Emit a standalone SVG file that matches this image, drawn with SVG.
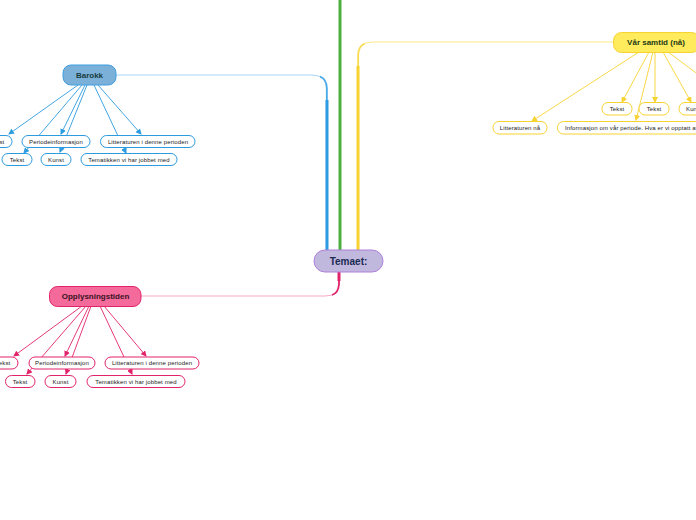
<svg xmlns="http://www.w3.org/2000/svg" width="696" height="520" viewBox="0 0 696 520">
<defs>
<marker id="mb" markerWidth="6" markerHeight="6" refX="5" refY="3" orient="auto" markerUnits="userSpaceOnUse"><path d="M0,0 L6,3 L0,6 Z" fill="#2d9be0"/></marker>
<marker id="mp" markerWidth="6" markerHeight="6" refX="5" refY="3" orient="auto" markerUnits="userSpaceOnUse"><path d="M0,0 L6,3 L0,6 Z" fill="#e2236a"/></marker>
<marker id="my" markerWidth="6" markerHeight="6" refX="5" refY="3" orient="auto" markerUnits="userSpaceOnUse"><path d="M0,0 L6,3 L0,6 Z" fill="#f7d332"/></marker>
</defs>
<style>
text{font-family:"Liberation Sans",Arial,sans-serif;text-anchor:middle;dominant-baseline:central}
.c{font-size:6px;fill:#222;letter-spacing:0.12px}
.b{fill:#fff;stroke:#2d9be0;stroke-width:1}
.p{fill:#fff;stroke:#e2236a;stroke-width:1}
.y{fill:#fff;stroke:#f7d332;stroke-width:1}
.ab{stroke:#2d9be0;stroke-width:0.9;fill:none;marker-end:url(#mb)}
.ap{stroke:#e2236a;stroke-width:0.9;fill:none;marker-end:url(#mp)}
.ay{stroke:#f7d332;stroke-width:0.9;fill:none;marker-end:url(#my)}
.m{font-weight:bold;font-size:8px}
</style>
<rect width="696" height="520" fill="#fff"/>
<g id="connectors">
<path d="M116,75 H312 Q327,75 327,90 V250" stroke="#a6d4f5" stroke-width="1" fill="none"/>
<path d="M320,76.5 Q326.5,79 326.8,88 V250" stroke="#4aaae8" stroke-width="1.8" fill="none"/>
<path d="M327,100 V250" stroke="#2d9be0" stroke-width="3" fill="none"/>
<path d="M340,0 V250" stroke="#4caf3c" stroke-width="3" fill="none"/>
<path d="M613,42 H372 Q358,42 358,56 V250" stroke="#fbe88a" stroke-width="1" fill="none"/>
<path d="M365,43.5 Q358.3,46 358.2,55 V250" stroke="#f9dc55" stroke-width="1.8" fill="none"/>
<path d="M358,66 V250" stroke="#f7d332" stroke-width="3" fill="none"/>
<path d="M339,272 V284 Q339,296 325,296 H141" stroke="#f5a9c4" stroke-width="1" fill="none"/>
<path d="M339,272 V284 Q338.5,293 332,295" stroke="#e2236a" stroke-width="1.8" fill="none"/>
<path d="M339,272 V281" stroke="#e2236a" stroke-width="3" fill="none"/>
<line class="ab" x1="78" y1="85" x2="9" y2="134"/>
<line class="ab" x1="82" y1="85" x2="24" y2="153"/>
<line class="ab" x1="85" y1="85" x2="61" y2="134"/>
<line class="ab" x1="87" y1="85" x2="60" y2="152"/>
<line class="ab" x1="94" y1="85" x2="126" y2="153"/>
<line class="ab" x1="98" y1="85" x2="141" y2="134"/>
<line class="ap" x1="82" y1="306" x2="14" y2="356"/>
<line class="ap" x1="86" y1="306" x2="27" y2="374"/>
<line class="ap" x1="89" y1="306" x2="65" y2="356"/>
<line class="ap" x1="91" y1="306" x2="66" y2="374"/>
<line class="ap" x1="100" y1="306" x2="132" y2="374"/>
<line class="ap" x1="104" y1="306" x2="146" y2="356"/>
<line class="ay" x1="639" y1="52" x2="532" y2="121"/>
<line class="ay" x1="649" y1="52" x2="622" y2="102"/>
<line class="ay" x1="653" y1="52" x2="636" y2="120"/>
<line class="ay" x1="655" y1="52" x2="655" y2="102"/>
<line class="ay" x1="663" y1="52" x2="691" y2="102"/>
<line class="ay" x1="668" y1="52" x2="730" y2="98"/>
</g>
<g id="temaet">
<rect x="314" y="250" width="69" height="22" rx="11" fill="#c1b8de" stroke="#b07fdc" stroke-width="1"/>
<text x="348.5" y="261.5" font-size="10" font-weight="bold" fill="#1a2a50">Temaet:</text>
</g>
<g id="barokk">
<rect x="63" y="65" width="53" height="20" rx="8" fill="#7bb0d8" stroke="#3f9ee0" stroke-width="1"/>
<text class="m" x="89.5" y="75.5" fill="#183c40">Barokk</text>
</g>
<g id="b-tekst1"><rect class="b" x="-18" y="135.5" width="30" height="12" rx="6"/><text class="c" x="-3" y="141.5">Tekst</text></g>
<g id="b-periode"><rect class="b" x="22" y="135.5" width="68" height="12" rx="6"/><text class="c" x="56" y="141.5">Periodeinformasjon</text></g>
<g id="b-litt"><rect class="b" x="100.5" y="135.5" width="94.5" height="12" rx="6"/><text class="c" x="148" y="141.5">Litteraturen i denne perioden</text></g>
<g id="b-tekst2"><rect class="b" x="2" y="153.5" width="30" height="12" rx="6"/><text class="c" x="17" y="159.5">Tekst</text></g>
<g id="b-kunst"><rect class="b" x="41" y="153.5" width="30" height="12" rx="6"/><text class="c" x="56" y="159.5">Kunst</text></g>
<g id="b-tema"><rect class="b" x="81" y="153.5" width="96" height="12" rx="6"/><text class="c" x="129" y="159.5">Tematikken vi har jobbet med</text></g>
<g id="opplysning">
<rect x="49.5" y="286.5" width="91.5" height="20" rx="8" fill="#f36a9b" stroke="#e2236a" stroke-width="1"/>
<text class="m" x="95.5" y="296.5" fill="#3a1222">Opplysningstiden</text>
</g>
<g id="o-tekst1"><rect class="p" x="-12" y="357" width="30" height="12" rx="6"/><text class="c" x="3" y="363">Tekst</text></g>
<g id="o-periode"><rect class="p" x="29" y="357" width="66" height="12" rx="6"/><text class="c" x="62" y="363">Periodeinformasjon</text></g>
<g id="o-litt"><rect class="p" x="105" y="357" width="94" height="12" rx="6"/><text class="c" x="152" y="363">Litteraturen i denne perioden</text></g>
<g id="o-tekst2"><rect class="p" x="5.5" y="375.5" width="29.5" height="12" rx="6"/><text class="c" x="20" y="381.5">Tekst</text></g>
<g id="o-kunst"><rect class="p" x="45" y="375.5" width="31" height="12" rx="6"/><text class="c" x="60.5" y="381.5">Kunst</text></g>
<g id="o-tema"><rect class="p" x="87" y="375.5" width="98" height="12" rx="6"/><text class="c" x="136" y="381.5">Tematikken vi har jobbet med</text></g>
<g id="samtid">
<rect x="613.5" y="32.5" width="86" height="20" rx="8" fill="#ffeb5c" stroke="#f7d332" stroke-width="1"/>
<text class="m" x="656" y="42.5" fill="#233a14">Vår samtid (nå)</text>
</g>
<g id="s-tekst1"><rect class="y" x="602" y="102.5" width="30" height="12.5" rx="6"/><text class="c" x="617" y="109">Tekst</text></g>
<g id="s-tekst2"><rect class="y" x="639" y="102.5" width="30" height="12.5" rx="6"/><text class="c" x="654" y="109">Tekst</text></g>
<g id="s-kunst"><rect class="y" x="679" y="102.5" width="30" height="12.5" rx="6"/><text class="c" x="694" y="109">Kunst</text></g>
<g id="s-litt"><rect class="y" x="493" y="121.5" width="54" height="12.5" rx="6"/><text class="c" x="520" y="128">Litteraturen nå</text></g>
<g id="s-info"><rect class="y" x="557.5" y="121.5" width="180" height="12.5" rx="6"/><text class="c" x="565" y="128" style="text-anchor:start">Informasjon om vår periode. Hva er vi opptatt av</text></g>
</svg>
